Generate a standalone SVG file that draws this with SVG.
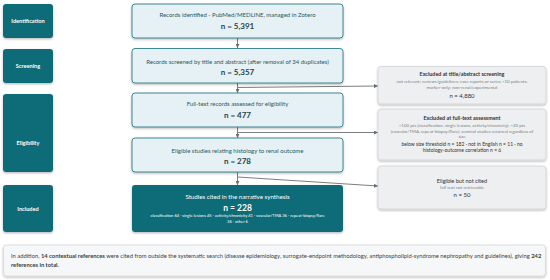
<svg xmlns="http://www.w3.org/2000/svg" width="550" height="280" viewBox="0 0 550 280">
<style>
text{font-family:Lato,"Open Sans","Liberation Sans",sans-serif;text-anchor:middle}
.stage rect{fill:#0f6c78}
.stage text{fill:#ffffff;font-weight:700;font-size:5.6px}
.box rect{fill:#e5f1f4;stroke:#2b7c87;stroke-width:0.9}
.box .t{fill:#2d5860;font-size:6px}
.box .n{fill:#24464d;font-size:8px;font-weight:700}
.inc rect{fill:#0f6c78}
.inc text{fill:#ffffff}
.exc rect{fill:#edeff1;stroke:#cfd3d7;stroke-width:0.8}
.exc .h{fill:#333;font-size:5.4px;font-weight:700}
.exc .s{fill:#7a7f84;font-size:4.4px}
.exc .m{fill:#333;font-size:5px}
.exc .n{fill:#333;font-size:6px}
.conn line{stroke:#6b6f73;stroke-width:0.9;fill:none}
</style>
<defs>
<marker id="ah" viewBox="0 0 6 6" refX="6" refY="3" markerWidth="4" markerHeight="4" orient="auto" markerUnits="userSpaceOnUse">
<path d="M0,0 L6,3 L0,6 z" fill="#6b6f73"/>
</marker>
<filter id="sh" x="-10%" y="-10%" width="120%" height="140%">
<feDropShadow dx="0" dy="1.2" stdDeviation="0.9" flood-color="#000" flood-opacity="0.28"/>
</filter>
</defs>
<rect width="550" height="280" fill="#ffffff"/>

<g id="stage-identification" class="stage"><rect x="3" y="4" width="50" height="34" rx="3" filter="url(#sh)"/><text x="28" y="23">Identification</text></g>
<g id="stage-screening" class="stage"><rect x="3" y="49" width="50" height="34" rx="3" filter="url(#sh)"/><text x="28" y="68">Screening</text></g>
<g id="stage-eligibility" class="stage"><rect x="3" y="94" width="50" height="78" rx="3" filter="url(#sh)"/><text x="28" y="145">Eligibility</text></g>
<g id="stage-included" class="stage"><rect x="3" y="185" width="50" height="47" rx="3" filter="url(#sh)"/><text x="28" y="211">Included</text></g>

<g id="conn" class="conn">
<line x1="237.5" y1="38" x2="237.5" y2="48" marker-end="url(#ah)"/>
<line x1="237.5" y1="83" x2="237.5" y2="93" marker-end="url(#ah)"/>
<line x1="237.5" y1="127" x2="237.5" y2="138" marker-end="url(#ah)"/>
<line x1="237.5" y1="172" x2="237.5" y2="185" marker-end="url(#ah)"/>
<line x1="237.5" y1="87.5" x2="378" y2="86" marker-end="url(#ah)"/>
<line x1="237.5" y1="132.5" x2="378" y2="132.5" marker-end="url(#ah)"/>
<line x1="237.5" y1="177" x2="378" y2="186" marker-end="url(#ah)"/>
</g>

<g id="identified" class="box"><rect x="132" y="4" width="211" height="34" rx="3" filter="url(#sh)"/>
<text class="t" x="237.5" y="17">Records identified - PubMed/MEDLINE, managed in Zotero</text>
<text class="n" x="237.5" y="28.5">n = 5,391</text></g>

<g id="screened" class="box"><rect x="132" y="48.5" width="211" height="34.5" rx="3" filter="url(#sh)"/>
<text class="t" x="237.5" y="63.5">Records screened by title and abstract (after removal of 34 duplicates)</text>
<text class="n" x="237.5" y="75">n = 5,357</text></g>

<g id="fulltext" class="box"><rect x="132" y="93" width="211" height="34" rx="3" filter="url(#sh)"/>
<text class="t" x="237.5" y="106">Full-text records assessed for eligibility</text>
<text class="n" x="237.5" y="118">n = 477</text></g>

<g id="eligible" class="box"><rect x="132" y="138" width="211" height="34" rx="3" filter="url(#sh)"/>
<text class="t" x="237.5" y="153">Eligible studies relating histology to renal outcome</text>
<text class="n" x="237.5" y="164">n = 278</text></g>

<g id="included" class="inc"><rect x="132" y="185" width="211" height="47" rx="3" filter="url(#sh)"/>
<text x="237.5" y="199" font-size="6.2">Studies cited in the narrative synthesis</text>
<text x="237.5" y="210.5" font-size="8.5" font-weight="700">n = 228</text>
<text x="237.5" y="217" font-size="4.1">classification 64 · single lesions 45 · activity/chronicity 41 · vascular/TMA 36 · repeat-biopsy/flare</text>
<text x="237.5" y="222.8" font-size="4.1">36 · other 6</text></g>

<g id="excl-screening" class="exc"><rect x="378" y="66.5" width="168" height="37.5" rx="3" filter="url(#sh)"/>
<text class="h" x="462" y="76">Excluded at title/abstract screening</text>
<text class="s" x="462" y="82.5">not relevant; reviews/guidelines; case reports or series &lt;10 patients;</text>
<text class="s" x="462" y="89">marker-only; non-renal/experimental</text>
<text class="n" x="462" y="97.5">n = 4,880</text></g>

<g id="excl-fulltext" class="exc"><rect x="378" y="109" width="168" height="51" rx="3" filter="url(#sh)"/>
<text class="h" x="462" y="119.5">Excluded at full-text assessment</text>
<text class="s" x="462" y="126.5">&lt;100 pts (classification, single lesions, activity/chronicity); &lt;20 pts</text>
<text class="s" x="462" y="132.5">(vascular/TMA, repeat-biopsy/flare); seminal studies retained regardless of</text>
<text class="s" x="462" y="138">size</text>
<text class="m" x="462" y="145.5">below size threshold n = 182 · not in English n = 11 · no</text>
<text class="m" x="462" y="152">histology-outcome correlation n = 6</text></g>

<g id="not-cited" class="exc"><rect x="378" y="166" width="168" height="43" rx="3" filter="url(#sh)"/>
<text class="h" x="462" y="182.5" style="font-weight:400;font-size:5.6px">Eligible but not cited</text>
<text class="s" x="462" y="188.5">full text not retrievable</text>
<text class="n" x="462" y="196.5">n = 50</text></g>

<g id="note"><rect x="3.5" y="245" width="542" height="31" rx="3" fill="#f6f7f8" stroke="#d5d8db" stroke-width="0.8" filter="url(#sh)"/>
<text x="11" y="258" font-size="5.8" fill="#3a3f44" style="text-anchor:start">In addition, <tspan font-weight="700">14 contextual references</tspan> were cited from outside the systematic search (disease epidemiology, surrogate-endpoint methodology, antiphospholipid-syndrome nephropathy and guidelines), giving <tspan font-weight="700">242</tspan></text>
<text x="11" y="266.5" font-size="5.8" fill="#3a3f44" font-weight="700" style="text-anchor:start">references in total.</text></g>
</svg>
